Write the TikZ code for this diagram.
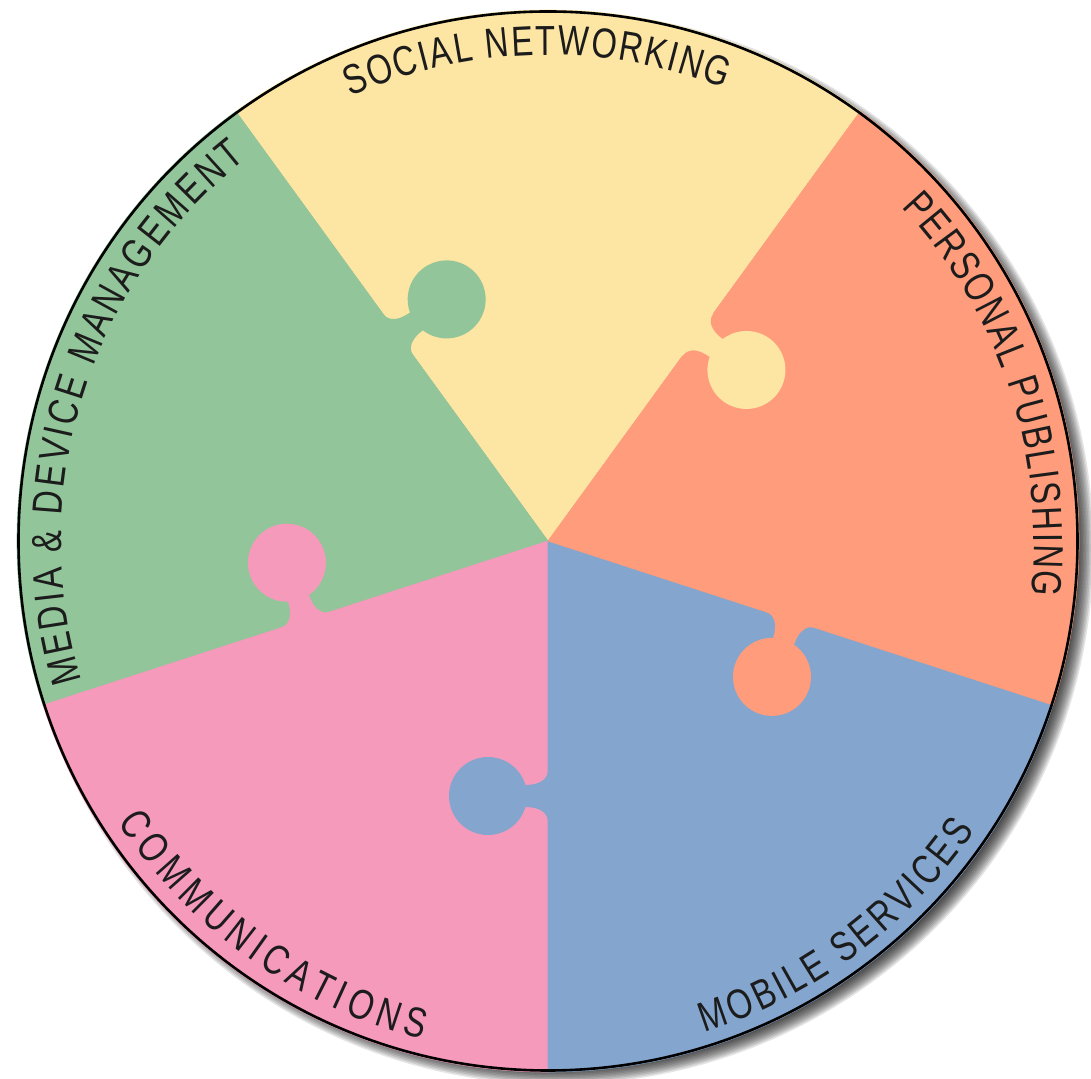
\documentclass[tikz,border=0pt]{standalone}
\usepackage{fontspec}
\usetikzlibrary{decorations.text}
\newfontfamily\piefont[FakeStretch=0.78]{Liberation Sans}
\definecolor{pyellow}{HTML}{FDE5A3}
\definecolor{pgreen}{HTML}{92C599}
\definecolor{ppink}{HTML}{F59ABB}
\definecolor{pblue}{HTML}{84A6CE}
\definecolor{porange}{HTML}{FE9C7B}
\definecolor{ptext}{HTML}{1C1C1C}
\tikzset{
  wedge/.style={fill=#1, draw=#1, line width=0.6pt},
  knobframe/.style={shift={(C)}, rotate=#1, yscale=-1},
  rimtext/.style={decorate, decoration={text along path, text color=ptext, text align={fit to path}, text={#1}}},
}
\newcommand{\knobpath}{(229,-1) -- (229,0) .. controls (238,0) and (244,8) .. (244,22.6)
  arc[start angle=253.6, end angle=-73.6, radius=39]
  .. controls (266,8) and (272,0) .. (281,0) -- (281,-1) -- cycle}
\begin{document}
\begin{tikzpicture}[x=1pt,y=1pt]
\useasboundingbox (0,0) rectangle (1091,1078);
\coordinate (C) at (548,537);
% drop shadow
\foreach \i in {0,...,11}{
  \fill[black, opacity=0.1] ([shift={(9,-7)}]C) circle ({520+1.5*\i});
}
% wedges
\fill[wedge=pyellow] (C) -- ([shift={(54:531)}]C) arc[start angle=54, end angle=126, radius=531] -- cycle;
\fill[wedge=pgreen] (C) -- ([shift={(126:531)}]C) arc[start angle=126, end angle=198, radius=531] -- cycle;
\fill[wedge=ppink] (C) -- ([shift={(198:531)}]C) arc[start angle=198, end angle=270, radius=531] -- cycle;
\fill[wedge=pblue] (C) -- ([shift={(270:531)}]C) arc[start angle=270, end angle=342, radius=531] -- cycle;
\fill[wedge=porange] (C) -- ([shift={(342:531)}]C) arc[start angle=342, end angle=414, radius=531] -- cycle;
% puzzle knobs
\begin{scope}[knobframe=126]\fill[pgreen] \knobpath;\end{scope}
\begin{scope}[knobframe=54]\fill[pyellow] \knobpath;\end{scope}
\begin{scope}[knobframe=-18]\fill[porange] \knobpath;\end{scope}
\begin{scope}[knobframe=-90]\fill[pblue] \knobpath;\end{scope}
\begin{scope}[knobframe=198]\fill[ppink] \knobpath;\end{scope}
% outline
\draw[black, line width=2.6pt] (C) circle (529.5);
% rim texts
\path[rimtext={|\piefont\fontsize{42}{42}\selectfont|SOCIAL NETWORKING}]
  ([shift={(114:486)}]C) arc[start angle=114, end angle=68.7, radius=486];
\path[rimtext={|\piefont\fontsize{42}{42}\selectfont|MEDIA {\&} DEVICE MANAGEMENT}]
  ([shift={(196.7:487)}]C) arc[start angle=196.7, end angle=128.3, radius=487];
\path[rimtext={|\piefont\fontsize{42}{42}\selectfont|PERSONAL PUBLISHING}]
  ([shift={(43.4:486)}]C) arc[start angle=43.4, end angle=-6.4, radius=486];
\path[rimtext={|\piefont\fontsize{42}{42}\selectfont|COMMUNICATIONS}]
  ([shift={(213.2:514)}]C) arc[start angle=213.2, end angle=255.9, radius=514];
\path[rimtext={|\piefont\fontsize{42}{42}\selectfont|MOBILE SERVICES}]
  ([shift={(-72.3:516)}]C) arc[start angle=-72.3, end angle=-34.2, radius=516];
\end{tikzpicture}
\end{document}
